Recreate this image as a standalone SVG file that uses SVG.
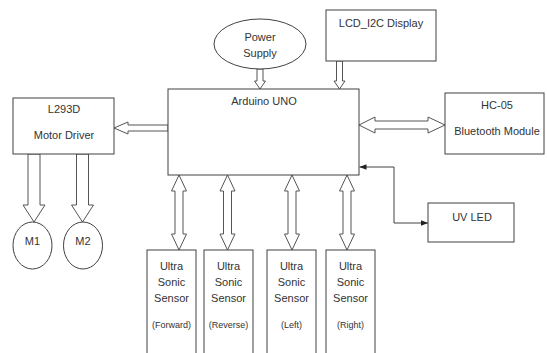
<svg xmlns="http://www.w3.org/2000/svg" width="547" height="353" viewBox="0 0 547 353">
<defs>
<style>
.box{fill:#fff;stroke:#404040;stroke-width:1}
.arr{fill:#fff;stroke:#555;stroke-width:1;stroke-linejoin:miter}
.t{font-family:"Liberation Sans",Arial,sans-serif;font-size:11px;fill:#333;text-anchor:middle}
.s{font-family:"Liberation Sans",Arial,sans-serif;font-size:9px;fill:#333;text-anchor:middle}
.ln{fill:none;stroke:#404040;stroke-width:1}
</style>
<marker id="ah" viewBox="0 0 10 10" refX="10" refY="5" markerWidth="7" markerHeight="7" orient="auto-start-reverse" markerUnits="userSpaceOnUse">
<path d="M0,1 L10,5 L0,9 z" fill="#222"/>
</marker>
</defs>
<rect width="547" height="353" fill="#fff"/>
<g id="connectors">
<polygon class="arr" points="257,69 263,69 263,81 265.5,81 260,89 254.5,81 257,81"/>
<polygon class="arr" points="336.5,61 342.5,61 342.5,81 345,81 339.5,89 334,81 336.5,81"/>
<polygon class="arr" points="168,125 128,125 128,122 114,128 128,134 128,131 168,131"/>
<polygon class="arr" points="359,125 375,117 375,121 428,121 428,117 445,125 428,133 428,129 375,129 375,133"/>
<polygon class="arr" points="28,154 40,154 40,205 45,205 34,222 23,205 28,205"/>
<polygon class="arr" points="76.5,154 88.5,154 88.5,205 93.5,205 82.5,222 71.5,205 76.5,205"/>
<polygon class="arr" points="179,175 186.5,191 183,191 183,234 186.5,234 179,250 171.5,234 175,234 175,191 171.5,191"/>
<polygon class="arr" points="227.5,175 235,191 231.5,191 231.5,234 235,234 227.5,250 220,234 223.5,234 223.5,191 220,191"/>
<polygon class="arr" points="292,175 299.5,191 296,191 296,234 299.5,234 292,250 284.5,234 288,234 288,191 284.5,191"/>
<polygon class="arr" points="347,175 354.5,191 351,191 351,234 354.5,234 347,250 339.5,234 343,234 343,191 339.5,191"/>
<path class="ln" d="M359.5,167 H394 V223 H428" marker-start="url(#ah)" marker-end="url(#ah)"/>
</g>
<g id="power">
<ellipse class="box" cx="260" cy="44" rx="46" ry="25"/>
<text class="t" x="260" y="41">Power</text>
<text class="t" x="260" y="57">Supply</text>
</g>
<g id="lcd">
<rect class="box" x="326" y="10" width="110" height="51"/>
<text class="t" x="381" y="27">LCD_I2C Display</text>
</g>
<g id="arduino">
<rect class="box" x="168" y="89" width="191" height="86"/>
<text class="t" x="264" y="105">Arduino UNO</text>
</g>
<g id="l293d">
<rect class="box" x="13" y="98" width="101" height="56"/>
<text class="t" x="64" y="113">L293D</text>
<text class="t" x="64" y="139">Motor Driver</text>
</g>
<g id="hc05">
<rect class="box" x="445" y="93" width="99" height="61"/>
<text class="t" x="497" y="109">HC-05</text>
<text class="t" x="497" y="135">Bluetooth Module</text>
</g>
<g id="uvled">
<rect class="box" x="428" y="203" width="86" height="39"/>
<text class="t" x="472" y="221">UV LED</text>
</g>
<g id="m1">
<ellipse class="box" cx="32.5" cy="245.5" rx="19.5" ry="23.5"/>
<text class="t" x="32.5" y="245">M1</text>
</g>
<g id="m2">
<ellipse class="box" cx="83" cy="245.5" rx="19.5" ry="23.5"/>
<text class="t" x="83" y="245">M2</text>
</g>
<g id="s-forward">
<rect class="box" x="147" y="250" width="49" height="110"/>
<text class="t" x="171.5" y="270">Ultra</text>
<text class="t" x="171.5" y="286">Sonic</text>
<text class="t" x="171.5" y="302">Sensor</text>
<text class="s" x="171.5" y="328">(Forward)</text>
</g>
<g id="s-reverse">
<rect class="box" x="204" y="250" width="49" height="110"/>
<text class="t" x="228.5" y="270">Ultra</text>
<text class="t" x="228.5" y="286">Sonic</text>
<text class="t" x="228.5" y="302">Sensor</text>
<text class="s" x="228.5" y="328">(Reverse)</text>
</g>
<g id="s-left">
<rect class="box" x="267" y="250" width="49" height="110"/>
<text class="t" x="291.5" y="270">Ultra</text>
<text class="t" x="291.5" y="286">Sonic</text>
<text class="t" x="291.5" y="302">Sensor</text>
<text class="s" x="291.5" y="328">(Left)</text>
</g>
<g id="s-right">
<rect class="box" x="326" y="250" width="49" height="110"/>
<text class="t" x="350.5" y="270">Ultra</text>
<text class="t" x="350.5" y="286">Sonic</text>
<text class="t" x="350.5" y="302">Sensor</text>
<text class="s" x="350.5" y="328">(Right)</text>
</g>
</svg>
